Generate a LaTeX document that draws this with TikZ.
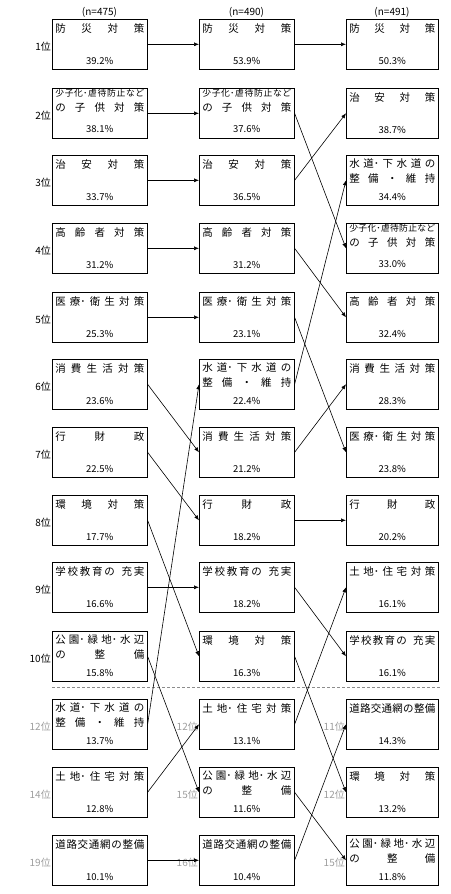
\documentclass[tikz,border=0pt]{standalone}
\usepackage{fontspec}
\setmainfont{Noto Sans CJK JP}
\usetikzlibrary{arrows.meta}
\newcommand\SPR{\hskip 0pt plus 1fil minus 1pt\relax}
\newcommand\zbox[1]{\setbox0=\hbox{#1}\ht0=0pt \dp0=0pt \box0 }
\newcommand\jf{\fontsize{10.5pt}{12pt}\selectfont}
\newcommand\smf{\fontsize{8.8pt}{10pt}\selectfont}
\newcommand\pf{\fontsize{9.5pt}{11pt}\selectfont}
\newcommand\boxc[7]{\vbox to 50pt{\offinterlineskip\hsize=#1\relax
 \vskip #2\zbox{\hbox to #1{\hskip3pt #3\hskip3pt}}%
 \vskip\dimexpr #4-#2\relax \zbox{\hbox to #1{\hskip3pt #5\hskip3pt}}%
 \vskip\dimexpr #6-#4\relax \zbox{\hbox to #1{\hfil #7\hfil}}%
 \vfil}}
\newcommand\single[3]{\boxc{#1}{13pt}{\jf #2}{13pt}{}{45pt}{\pf #3}}
\newcommand\double[4]{\boxc{#1}{12.5pt}{\jf #2}{27pt}{\jf #3}{45.5pt}{\pf #4}}
\newcommand\kodomo[2]{\boxc{#1}{8.5pt}{\smf 少\SPR 子\SPR 化･\SPR 虐\SPR 待\SPR 防\SPR 止\SPR な\SPR ど}{23pt}{\jf の\SPR 子\SPR 供\SPR 対\SPR 策}{44pt}{\pf #2}}
\newcommand\water[2]{\double{#1}{水\SPR 道･\SPR 下\SPR 水\SPR 道\SPR の}{整\SPR 備\SPR ・\SPR 維\SPR 持}{#2}}
\newcommand\park[2]{\double{#1}{公\SPR 園･\SPR 緑\SPR 地･\SPR 水\SPR 辺}{の\SPR 整\SPR 備}{#2}}
\newcommand\bousai{防\SPR 災\SPR 対\SPR 策}
\newcommand\chian{治\SPR 安\SPR 対\SPR 策}
\newcommand\koreisha{高\SPR 齢\SPR 者\SPR 対\SPR 策}
\newcommand\iryou{医\SPR 療･\SPR 衛\SPR 生\SPR 対\SPR 策}
\newcommand\shouhi{消\SPR 費\SPR 生\SPR 活\SPR 対\SPR 策}
\newcommand\gyouzai{行\SPR 財\SPR 政}
\newcommand\kankyou{環\SPR 境\SPR 対\SPR 策}
\newcommand\gakkou{学\SPR 校\SPR 教\SPR 育\SPR の\hskip 5pt plus 1fil 充\SPR 実}
\newcommand\tochi{土\SPR 地･\SPR 住\SPR 宅\SPR 対\SPR 策}
\newcommand\douro{道\SPR 路\SPR 交\SPR 通\SPR 網\SPR の\SPR 整\SPR 備}
\newcommand\wa{95pt}
\newcommand\wb{95pt}
\newcommand\wc{92pt}
\tikzset{
 bx/.style={draw, line width=0.6pt, inner sep=0pt, anchor=north west},
 rk/.style={anchor=east, font=\fontsize{10pt}{12pt}\selectfont, inner sep=1pt},
 rkg/.style={rk, text=black!38},
 hd/.style={font=\fontsize{10pt}{12pt}\selectfont, inner sep=0pt},
 ar/.style={-{Latex[length=5pt,width=4pt]}, line width=0.6pt}
}
\begin{document}
\begin{tikzpicture}[x=1pt,y=-1pt]
\useasboundingbox (0,0) rectangle (450,894);
% headers
\node[hd] (na) at (99.5,12) {(n=475)};
\node[hd] (nb) at (246.5,12) {(n=490)};
\node[hd] (nc) at (392,12) {(n=491)};
% column A
\node[bx] (a1) at (52,19) {\single{\wa}{\bousai}{39.2\%}};
\node[bx] (a2) at (52,88) {\kodomo{\wa}{38.1\%}};
\node[bx] (a3) at (52,155) {\single{\wa}{\chian}{33.7\%}};
\node[bx] (a4) at (52,223) {\single{\wa}{\koreisha}{31.2\%}};
\node[bx] (a5) at (52,292) {\single{\wa}{\iryou}{25.3\%}};
\node[bx] (a6) at (52,359) {\single{\wa}{\shouhi}{23.6\%}};
\node[bx] (a7) at (52,427) {\single{\wa}{\gyouzai}{22.5\%}};
\node[bx] (a8) at (52,495) {\single{\wa}{\kankyou}{17.7\%}};
\node[bx] (a9) at (52,562) {\single{\wa}{\gakkou}{16.6\%}};
\node[bx] (a10) at (52,631) {\park{\wa}{15.8\%}};
\node[bx] (a11) at (52,699) {\water{\wa}{13.7\%}};
\node[bx] (a12) at (52,767) {\single{\wa}{\tochi}{12.8\%}};
\node[bx] (a13) at (52,835) {\single{\wa}{\douro}{10.1\%}};
% column B
\node[bx] (b1) at (199,19) {\single{\wb}{\bousai}{53.9\%}};
\node[bx] (b2) at (199,88) {\kodomo{\wb}{37.6\%}};
\node[bx] (b3) at (199,155) {\single{\wb}{\chian}{36.5\%}};
\node[bx] (b4) at (199,223) {\single{\wb}{\koreisha}{31.2\%}};
\node[bx] (b5) at (199,292) {\single{\wb}{\iryou}{23.1\%}};
\node[bx] (b6) at (199,359) {\water{\wb}{22.4\%}};
\node[bx] (b7) at (199,427) {\single{\wb}{\shouhi}{21.2\%}};
\node[bx] (b8) at (199,495) {\single{\wb}{\gyouzai}{18.2\%}};
\node[bx] (b9) at (199,562) {\single{\wb}{\gakkou}{18.2\%}};
\node[bx] (b10) at (199,631) {\single{\wb}{\kankyou}{16.3\%}};
\node[bx] (b11) at (199,699) {\single{\wb}{\tochi}{13.1\%}};
\node[bx] (b12) at (199,767) {\park{\wb}{11.6\%}};
\node[bx] (b13) at (199,835) {\single{\wb}{\douro}{10.4\%}};
% column C
\node[bx] (c1) at (346,19) {\single{\wc}{\bousai}{50.3\%}};
\node[bx] (c2) at (346,88) {\single{\wc}{\chian}{38.7\%}};
\node[bx] (c3) at (346,155) {\water{\wc}{34.4\%}};
\node[bx] (c4) at (346,223) {\kodomo{\wc}{33.0\%}};
\node[bx] (c5) at (346,292) {\single{\wc}{\koreisha}{32.4\%}};
\node[bx] (c6) at (346,359) {\single{\wc}{\shouhi}{28.3\%}};
\node[bx] (c7) at (346,427) {\single{\wc}{\iryou}{23.8\%}};
\node[bx] (c8) at (346,495) {\single{\wc}{\gyouzai}{20.2\%}};
\node[bx] (c9) at (346,562) {\single{\wc}{\tochi}{16.1\%}};
\node[bx] (c10) at (346,631) {\single{\wc}{\gakkou}{16.1\%}};
\node[bx] (c11) at (346,699) {\single{\wc}{\douro}{14.3\%}};
\node[bx] (c12) at (346,767) {\single{\wc}{\kankyou}{13.2\%}};
\node[bx] (c13) at (346,835) {\park{\wc}{11.8\%}};
% rank labels
\foreach \i in {1,...,10} {\node[rk] (ra\i) at ([yshift=-2pt]a\i.west) {\i 位};}
\node[rkg] (ra11) at ([yshift=-2pt]a11.west) {12位};
\node[rkg] (ra12) at ([yshift=-2pt]a12.west) {14位};
\node[rkg] (ra13) at ([yshift=-2pt]a13.west) {19位};
\node[rkg] (rb11) at ([yshift=-2pt]b11.west) {12位};
\node[rkg] (rb12) at ([yshift=-2pt]b12.west) {15位};
\node[rkg] (rb13) at ([yshift=-2pt]b13.west) {16位};
\node[rkg] (rc11) at ([yshift=-2pt]c11.west) {11位};
\node[rkg] (rc12) at ([yshift=-2pt]c12.west) {12位};
\node[rkg] (rc13) at ([yshift=-2pt]c13.west) {15位};
% dashed separator
\coordinate (d1) at (52,687);
\coordinate (d2) at (441,687);
\draw[black!45, line width=0.8pt, dash pattern=on 3pt off 2pt] (d1) -- (d2);
% arrows A -> B
\foreach \s/\t in {1/1,2/2,3/3,4/4,5/5,6/7,7/8,8/10,9/9,10/12,11/6,12/11,13/13}
  {\draw[ar] (a\s.east) -- (b\t.west);}
% arrows B -> C
\foreach \s/\t in {1/1,2/4,3/2,4/5,5/7,6/3,7/6,8/8,9/10,10/12,11/9,12/13,13/11}
  {\draw[ar] (b\s.east) -- (c\t.west);}
\end{tikzpicture}
\end{document}
